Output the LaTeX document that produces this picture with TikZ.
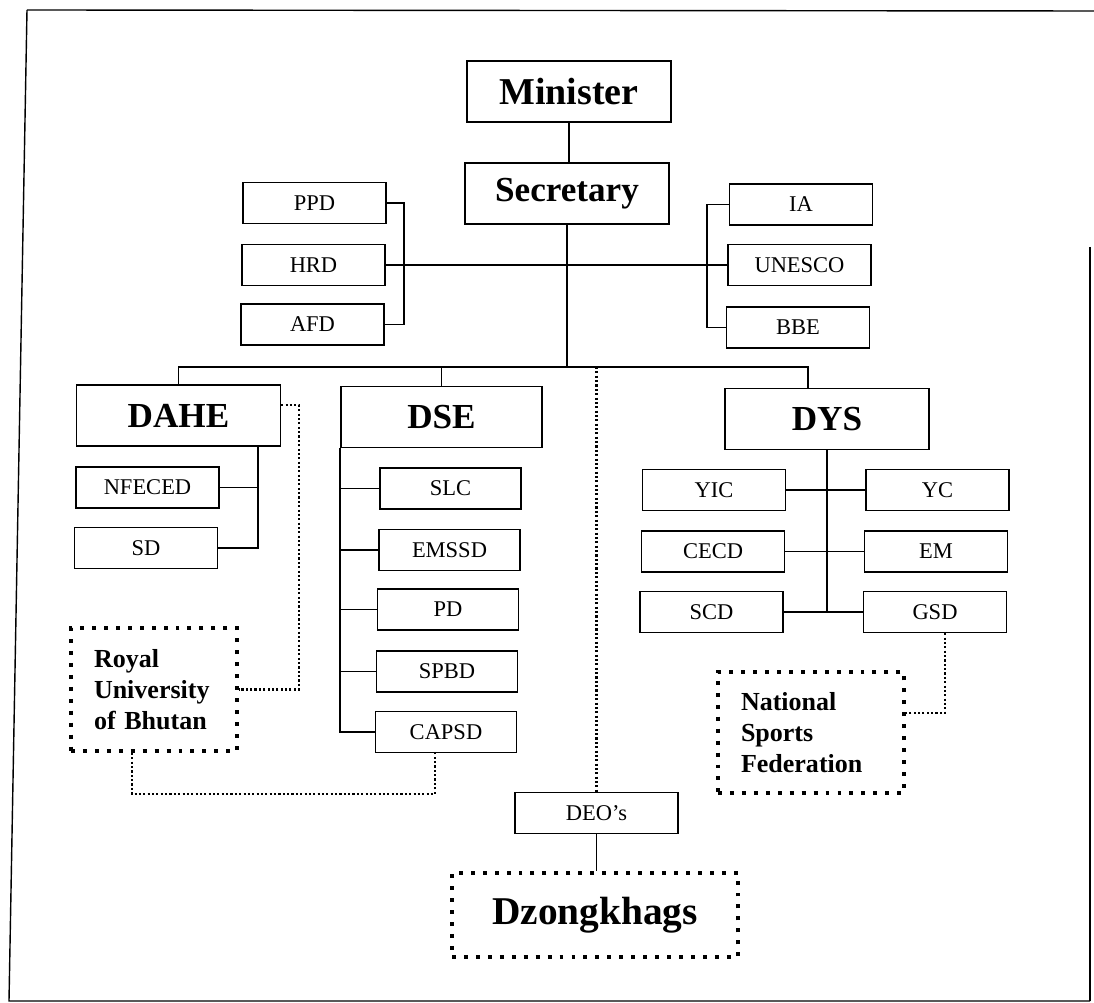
\documentclass[tikz,border=0pt]{standalone}
\usepackage{fontspec}
\setmainfont{Liberation Serif}
\tikzset{
  headbox/.style={draw, line width=1.1pt, minimum width=5.1cm, minimum height=1.525cm, inner sep=0pt, font=\fontsize{25}{30}\selectfont\bfseries},
  unitbox/.style={draw, line width=1.1pt, minimum width=3.575cm, minimum height=1.025cm, inner sep=0pt, font=\fontsize{16}{19}\selectfont},
  linkbox/.style={draw, line width=2.8pt, dash pattern=on 2.8pt off 5.7pt, inner xsep=0.575cm, inner ysep=0pt, align=left, font=\fontsize{18.5}{22}\selectfont\bfseries},
  linkdots/.style={line width=1.5pt, dash pattern=on 1.5pt off 1.6pt},
  wire/.style={line width=1.1pt}
}
\begin{document}
\begin{tikzpicture}
                    \useasboundingbox (0,0) rectangle (27.350000,25.075000);
                    
                    % Drawing frame
                    \draw [line width=1pt] (0.675000,24.825000) -- (27.350000,24.800000);%
                    \draw [line width=1pt] (0.675000,24.825000) -- (0.225000,0.050000) -- (27.250000,0.050000);%
                    \draw [line width=1pt] (27.250000,18.900000) -- (27.250000,0.050000);%
                    
                    % Drawing top boxes
                    \node [headbox, font=\fontsize{27}{30}\selectfont\bfseries] (Minister) at (14.225000,22.787500) {Minister};%
                    \node [headbox] (Secretary) at (14.175000,20.237500) {Secretary};%
                    
                    % Drawing boxes beside Secretary
                    \node [unitbox] (PPD) at (7.862500,20.000000) {PPD};%
                    \node [unitbox] (HRD) at (7.837500,18.450000) {HRD};%
                    \node [unitbox] (AFD) at (7.812500,16.962500) {AFD};%
                    \node [unitbox] (IA) at (20.025000,19.962500) {IA};%
                    \node [unitbox] (UNESCO) at (19.987500,18.450000) {UNESCO};%
                    \node [unitbox] (BBE) at (19.950000,16.887500) {BBE};%
                    
                    % Drawing departments
                    \node [headbox] (DAHE) at (4.462500,14.687500) {DAHE};%
                    \node [headbox, minimum width=5.025cm] (DSE) at (11.037500,14.650000) {DSE};%
                    \node [headbox] (DYS) at (20.675000,14.600000) {DYS};%
                    
                    % Drawing divisions of DAHE
                    \node [unitbox] (NFECED) at (3.687500,12.887500) {NFECED};%
                    \node [unitbox] (SD) at (3.650000,11.375000) {SD};%
                    
                    % Drawing divisions of DSE
                    \node [unitbox, minimum width=3.525cm] (SLC) at (11.262500,12.862500) {SLC};%
                    \node [unitbox, minimum width=3.525cm] (EMSSD) at (11.237500,11.325000) {EMSSD};%
                    \node [unitbox, minimum width=3.525cm] (PD) at (11.200000,9.837500) {PD};%
                    \node [unitbox, minimum width=3.525cm] (SPBD) at (11.175000,8.287500) {SPBD};%
                    \node [unitbox, minimum width=3.525cm] (CAPSD) at (11.150000,6.775000) {CAPSD};%
                    
                    % Drawing divisions of DYS
                    \node [unitbox] (YIC) at (17.850000,12.825000) {YIC};%
                    \node [unitbox] (CECD) at (17.825000,11.287500) {CECD};%
                    \node [unitbox] (SCD) at (17.787500,9.775000) {SCD};%
                    \node [unitbox] (YC) at (23.437500,12.825000) {YC};%
                    \node [unitbox] (EM) at (23.400000,11.287500) {EM};%
                    \node [unitbox] (GSD) at (23.375000,9.775000) {GSD};%
                    
                    % Drawing linked bodies
                    \node [linkbox, text width=3.0cm, minimum height=3.075cm] (RUB) at (3.850000,7.837500) {Royal\\University\\of Bhutan};%
                    \node [linkbox, text width=3.5cm, minimum height=3.025cm] (NSF) at (20.275000,6.762500) {National\\Sports\\Federation};%
                    \node [unitbox, minimum width=4.075cm] (DEO) at (14.912500,4.750000) {DEO's};%
                    \node [linkbox, align=center, inner xsep=0pt, minimum width=7.15cm, minimum height=2.1cm, font=\fontsize{28}{30}\selectfont\bfseries] (Dzongkhags) at (14.875000,2.200000) {Dzongkhags};%
                    
                    % Drawing line Minister Secretary
                    \draw [wire] (Minister.south) -- (Minister.south |- Secretary.north);%
                    
                    % Drawing bus to departments
                    \coordinate (bus) at (14.175000,15.900000);%
                    \coordinate (busdys) at (20.200000,15.900000);%
                    \draw [wire] (Secretary.south) -- (bus);%
                    \draw [wire] (DAHE.north) |- (busdys) -- (busdys |- DYS.north);%
                    \draw [wire] (DSE.north) -- (DSE.north |- bus);%
                    
                    % Drawing brackets beside Secretary
                    \coordinate (lbrack) at (10.100000,20.000000);%
                    \coordinate (rbrack) at (17.675000,19.962500);%
                    \draw [wire] (PPD.east) -- (lbrack) |- (AFD.east);%
                    \draw [wire] (IA.west) -- (rbrack) |- (BBE.west);%
                    \draw [line width=1.7pt] (HRD.east) -- (UNESCO.west);%
                    
                    % Drawing tree of DAHE
                    \coordinate (dahetrunk) at (6.450000,13.925000);%
                    \draw [wire] (dahetrunk) |- (SD.east);%
                    \draw [wire] (NFECED.east) -- (NFECED.east -| dahetrunk);%
                    
                    % Drawing tree of DSE
                    \draw [wire] (DSE.south west) |- (CAPSD.west);%
                    \draw [wire] (SLC.west) -- (SLC.west -| DSE.south west);%
                    \draw [wire] (EMSSD.west) -- (EMSSD.west -| DSE.south west);%
                    \draw [wire] (PD.west) -- (PD.west -| DSE.south west);%
                    \draw [wire] (SPBD.west) -- (SPBD.west -| DSE.south west);%
                    
                    % Drawing tree of DYS
                    \draw [wire] (DYS.south) -- (DYS.south |- SCD.east);%
                    \draw [wire] (YIC.east) -- (YC.west);%
                    \draw [wire] (CECD.east) -- (EM.west);%
                    \draw [line width=1.4pt] (SCD.east) -- (GSD.west);%
                    
                    % Drawing dotted links
                    \draw [linkdots] ([yshift=0.26cm]DAHE.east) -- ++(0.44,0) |- (RUB.east);%
                    \draw [linkdots] ([xshift=-0.55cm]RUB.south) -- ++(0,-1.025) -| ([xshift=-0.275cm]CAPSD.south);%
                    \draw [linkdots] ([xshift=0.25cm]GSD.south) |- ([yshift=0.4875cm]NSF.east);%
                    \draw [linkdots] (DEO.north |- bus) -- (DEO.north);%
                    
                    % Drawing line DEO Dzongkhags
                    \draw [wire] (DEO.south) -- (DEO.south |- Dzongkhags.north);%
                    \end{tikzpicture}
\end{document}
